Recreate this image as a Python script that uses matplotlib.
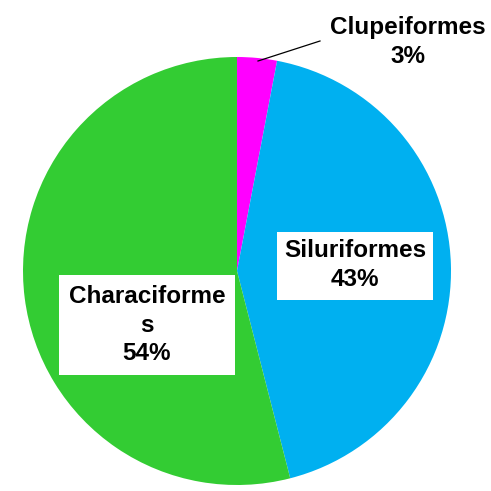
import matplotlib.pyplot as plt
from matplotlib.patches import Rectangle

# data
orders = ["Clupeiformes", "Siluriformes", "Characiformes"]
shares = [3, 43, 54]
colors = ["#FF00FF", "#00B0F0", "#33CC33"]
label_text = ["Clupeiformes\n3%", "Siluriformes\n43%", "Characiforme\ns\n54%"]

W = 491
cx, cy, r = 237, 271, 214  # pie centre / radius in pixels


def px(x, y):
    """pixel position -> data coords (pie radius = 1)"""
    return (x - cx) / r, (cy - y) / r


fig = plt.figure(figsize=(W / 100, W / 100), dpi=100)
ax = fig.add_axes([(cx - r) / W, (W - cy - r) / W, 2 * r / W, 2 * r / W])
ax.pie(shares, colors=colors, startangle=90, counterclock=False, radius=1,
       wedgeprops=dict(linewidth=0))
ax.set_xlim(-1, 1)
ax.set_ylim(-1, 1)
ax.set_aspect("equal")
ax.axis("off")

font = dict(family=["Liberation Sans", "DejaVu Sans"], fontweight="heavy",
            fontsize=17.5, color="black", ha="center", va="center", linespacing=1.3)

# white label boxes (pixel extents from the picture)
boxes = {1: (277, 232, 433, 300), 2: (59, 275, 235, 375)}
for i, (x0, y0, x1, y1) in boxes.items():
    a = px(x0, y1)
    b = px(x1, y0)
    ax.add_patch(Rectangle(a, b[0] - a[0], b[1] - a[1], facecolor="white",
                           edgecolor="none", zorder=3))

tx, ty = px(355, 265)
ax.text(tx, ty, label_text[1], zorder=4, **font)
tx, ty = px(147, 325)
ax.text(tx, ty, label_text[2], zorder=4, **font)

# outside label with leader line
tx, ty = px(408, 42)
ax.text(tx, ty, label_text[0], clip_on=False, **font)
l0 = px(258, 61)
l1 = px(320, 41)
ax.plot([l0[0], l1[0]], [l0[1], l1[1]], color="black", lw=0.9, clip_on=False)

fig.savefig("out.png", dpi=100, facecolor="white")
